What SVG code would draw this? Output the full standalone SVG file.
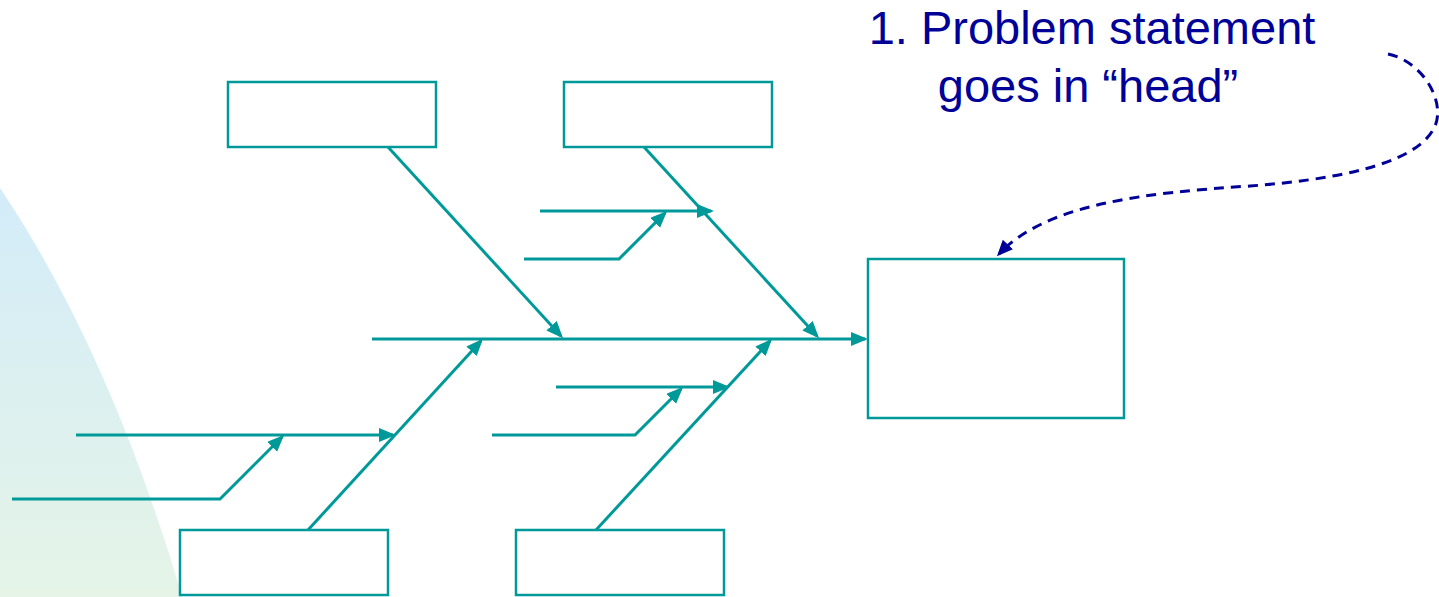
<svg xmlns="http://www.w3.org/2000/svg" width="1439" height="597" viewBox="0 0 1439 597">
  <style>
    .box { fill: #ffffff; stroke: #009999; stroke-width: 2.5; }
    .bone { fill: none; stroke: #009999; stroke-width: 3; marker-end: url(#tealArrow); }
    .label { font-family: "Liberation Sans", Arial, sans-serif; font-size: 47px; fill: #000099; text-anchor: middle; }
    .callout { fill: none; stroke: #000099; stroke-width: 3; stroke-dasharray: 10 7; marker-end: url(#navyArrow); }
  </style>
  <defs>
    <linearGradient id="bgFade" x1="0" y1="187" x2="0" y2="597" gradientUnits="userSpaceOnUse">
      <stop offset="0" stop-color="#d3ecf9"/>
      <stop offset="1" stop-color="#e5f4e7"/>
    </linearGradient>
    <marker id="tealArrow" markerUnits="userSpaceOnUse" markerWidth="18" markerHeight="15" refX="14" refY="7" orient="auto">
      <path d="M0,0 L17,7 L0,14 Z" fill="#009999"/>
    </marker>
    <marker id="navyArrow" markerUnits="userSpaceOnUse" markerWidth="17" markerHeight="15" refX="13" refY="7" orient="auto">
      <path d="M0,0 L16,7 L0,14 Z" fill="#000099"/>
    </marker>
  </defs>

  <!-- page background with soft sweep on the left -->
  <rect x="0" y="0" width="1439" height="597" fill="#ffffff"/>
  <path d="M0,187 Q110,350 183,597 L0,597 Z" fill="url(#bgFade)"/>
  <path d="M0,187 Q110,350 183,597" fill="none" stroke="#ffffff" stroke-width="1.5" stroke-opacity="0.8"/>

  <!-- connectors: spine, bones and sub-causes -->
  <g id="connectors">
    <line class="bone" x1="372" y1="339" x2="865" y2="339"/>
    <line class="bone" x1="388" y1="147" x2="561" y2="336"/>
    <line class="bone" x1="644" y1="147" x2="817" y2="336"/>
    <line class="bone" x1="308" y1="530" x2="481" y2="341"/>
    <line class="bone" x1="596" y1="530" x2="770" y2="341"/>

    <line class="bone" x1="540" y1="211" x2="711" y2="211"/>
    <polyline class="bone" points="524,259 619,259 665,213"/>

    <line class="bone" x1="556" y1="387" x2="727" y2="387"/>
    <polyline class="bone" points="492,435 635,435 681,389"/>

    <line class="bone" x1="76" y1="435" x2="393" y2="435"/>
    <polyline class="bone" points="12,499 220,499 282,437"/>

    <path class="callout" d="M1388,54 C1425,62 1448,106 1433,130 C1412,166 1330,180 1250,186 C1140,193 1045,205 999,254"/>
  </g>

  <!-- category boxes -->
  <g id="cause-top-left"><rect class="box" x="228" y="82" width="208" height="65"/></g>
  <g id="cause-top-right"><rect class="box" x="564" y="82" width="208" height="65"/></g>
  <g id="cause-bottom-left"><rect class="box" x="180" y="530" width="208" height="65"/></g>
  <g id="cause-bottom-right"><rect class="box" x="516" y="530" width="208" height="65"/></g>

  <!-- head (problem statement) -->
  <g id="head"><rect class="box" x="868" y="259" width="256" height="159"/></g>

  <g id="note">
    <text class="label" x="1092" y="44">1. Problem statement</text>
    <text class="label" x="1088" y="102">goes in “head”</text>
  </g>
</svg>
